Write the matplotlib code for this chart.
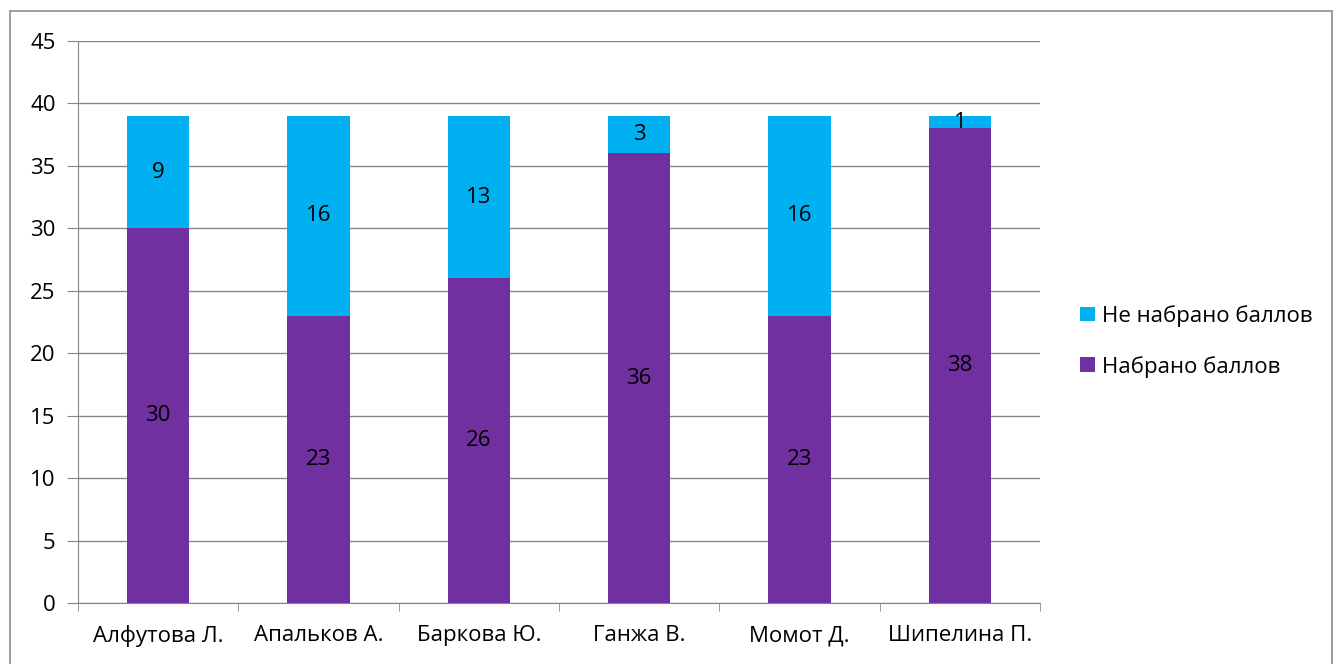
import matplotlib.pyplot as plt
from matplotlib.patches import Rectangle

plt.rcParams['font.family'] = ['Open Sans', 'DejaVu Sans']

names = ['Алфутова Л.', 'Апальков А.', 'Баркова Ю.', 'Ганжа В.', 'Момот Д.', 'Шипелина П.']
scored = [30, 23, 26, 36, 23, 38]
missed = [9, 16, 13, 3, 16, 1]

purple = '#7030A0'
blue = '#00B0F0'

fig = plt.figure(figsize=(13.37, 6.64), dpi=100)
fig.patches.append(Rectangle((0.0075, -0.01), 0.989, 0.993, transform=fig.transFigure,
                             fill=False, edgecolor='#8c8c8c', linewidth=1.2))
ax = fig.add_axes([0.0583, 0.0919, 0.7196, 0.8464])

x = range(len(names))
b1 = ax.bar(x, scored, width=0.39, color=purple, label='Набрано баллов', zorder=3)
b2 = ax.bar(x, missed, width=0.39, bottom=scored, color=blue, label='Не набрано баллов', zorder=3)
ax.bar_label(b1, label_type='center', fontsize=16)
ax.bar_label(b2, label_type='center', fontsize=16)

ax.set_xlim(-0.5, len(names) - 0.5)
ax.set_ylim(0, 45)
ax.set_yticks(range(0, 46, 5))
ax.set_xticks(list(x))
ax.set_xticklabels(names)
ax.set_xticks([i - 0.5 for i in range(len(names) + 1)], minor=True)
ax.tick_params(axis='x', which='major', length=0, pad=16, labelsize=16)
ax.tick_params(axis='x', which='minor', length=6, color='#868686')
ax.tick_params(axis='y', length=8, color='#868686', pad=8, labelsize=16)
ax.grid(axis='y', color='#868686', linewidth=1, zorder=0)

for s in ['top', 'right']:
    ax.spines[s].set_visible(False)
ax.spines['left'].set_color('#868686')
ax.spines['bottom'].set_color('#868686')

h, l = ax.get_legend_handles_labels()
fig.legend(h[::-1], l[::-1], loc='center left', bbox_to_anchor=(0.793, 0.486),
           frameon=False, fontsize=16, handlelength=0.65, handleheight=0.65,
           handletextpad=0.35, labelspacing=1.3)

fig.savefig('out.png', dpi=100)
